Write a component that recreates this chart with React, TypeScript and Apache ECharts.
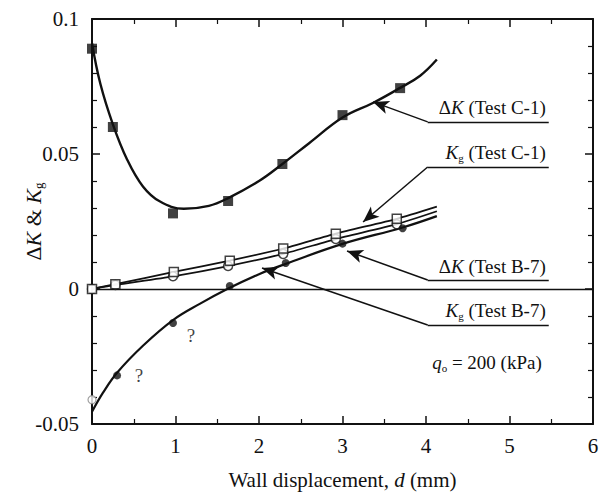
import React, { useEffect, useRef } from "react";
import * as echarts from "echarts";

// ---- Data ----
// ΔK (Test C-1): measured points (filled squares) and fitted curve
const dkC1X = [0, 0.25, 0.97, 1.63, 2.28, 3.0, 3.69];
const dkC1Y = [0.089, 0.06, 0.028, 0.0326, 0.0463, 0.0644, 0.0744];
const dkC1FitX = [0, 0.1, 0.25, 0.42, 0.61, 0.81, 1.1, 1.4, 1.62, 2.0, 2.28, 2.6, 3.0, 3.37, 3.69, 3.93, 4.13];
const dkC1FitY = [0.091, 0.076, 0.061, 0.048, 0.038, 0.0325, 0.0297, 0.0308, 0.0335, 0.04, 0.0463, 0.054, 0.0635, 0.069, 0.0745, 0.079, 0.085];

// Kg (Test C-1): open squares
const kgC1X = [0, 0.28, 0.98, 1.65, 2.29, 2.92, 3.65];
const kgC1Y = [0, 0.0018, 0.0063, 0.0105, 0.015, 0.0205, 0.026];
const kgC1LineX = [0, 0.28, 0.98, 1.65, 2.29, 2.92, 3.65, 4.13];
const kgC1LineY = [0, 0.0018, 0.0063, 0.0105, 0.015, 0.0205, 0.026, 0.0305];

// Kg (Test B-7): open circles
const kgB7X = [0, 0.28, 0.97, 1.63, 2.29, 2.92, 3.65];
const kgB7Y = [0, 0.0015, 0.0047, 0.0085, 0.013, 0.0185, 0.024];
const kgB7LineX = [0, 0.28, 0.97, 1.63, 2.29, 2.92, 3.65, 4.13];
const kgB7LineY = [0, 0.0015, 0.0047, 0.0085, 0.013, 0.0185, 0.024, 0.0288];

// ΔK (Test B-7): filled circles and fitted curve
const dkB7X = [0, 0.3, 0.97, 1.65, 2.32, 3.0, 3.72];
const dkB7Y = [-0.041, -0.032, -0.0126, 0.0011, 0.0096, 0.0168, 0.0225];
const dkB7FitX = [0, 0.13, 0.3, 0.61, 0.97, 1.29, 1.62, 2.0, 2.32, 3.0, 3.72, 4.13];
const dkB7FitY = [-0.0455, -0.0385, -0.031, -0.021, -0.0115, -0.0055, 0, 0.0055, 0.0093, 0.0167, 0.0228, 0.027];

// Axis ticks
const xTicks = [0, 1, 2, 3, 4, 5, 6];
const yTicks = [-0.05, 0, 0.05, 0.1];

// Annotation anchors (data coordinates)
const underlineX = [4.02, 5.47];
const labelY = [0.0619, 0.0452, 0.00333, -0.01333];
const arrowTips = [
  [3.365, 0.0693],
  [3.246, 0.0248],
  [3.054, 0.0141],
  [2.036, 0.0078],
];
const labelTexts = [
  "{n|Δ}{i|K} (Test C-1)",
  "{i|K}{s|g} (Test C-1)",
  "{n|Δ}{i|K} (Test B-7)",
  "{i|K}{s|g} (Test B-7)",
];

const FONT = "Liberation Serif";

const zip = (xs: number[], ys: number[]) => xs.map((x, i) => [x, ys[i]]);

const richStyles = {
  n: { fontFamily: FONT, fontSize: 19, lineHeight: 22, color: "#111" },
  i: { fontFamily: FONT, fontSize: 19, lineHeight: 22, fontStyle: "italic", color: "#111" },
  s: { fontFamily: FONT, fontSize: 11, lineHeight: 10, verticalAlign: "bottom", color: "#111" },
};

export default function App() {
  const ref = useRef<HTMLDivElement>(null);
  useEffect(() => {
    document.body.style.margin = "0";
    const chart = echarts.init(ref.current as HTMLDivElement, null, { renderer: "svg" });

    const axisCommon = {
      axisLine: { show: true, onZero: false, lineStyle: { color: "#111", width: 2 } },
      axisTick: { show: true, inside: true, length: 8, lineStyle: { color: "#111", width: 1.5 } },
      splitLine: { show: false },
    };

    const open = { color: "#fff", borderColor: "#111", borderWidth: 1.5 };

    const option: any = {
      animation: false,
      backgroundColor: "#fff",
      textStyle: { fontFamily: FONT },
      grid: { left: 92, right: 17, top: 19, bottom: 76, containLabel: false },
      xAxis: [
        {
          type: "value",
          min: xTicks[0],
          max: xTicks[xTicks.length - 1],
          interval: 1,
          position: "bottom",
          ...axisCommon,
          minorTick: { show: true, splitNumber: 2, length: 5, lineStyle: { color: "#111", width: 1.2 } },
          axisLabel: { color: "#111", fontFamily: FONT, fontSize: 21, margin: 11 },
          name: "Wall displacement, {i|d} (mm)",
          nameLocation: "middle",
          nameGap: 45,
          nameMoveOverlap: false,
          nameTextStyle: {
            fontFamily: FONT,
            fontSize: 21,
            color: "#111",
            rich: { i: { fontFamily: FONT, fontSize: 21, fontStyle: "italic", color: "#111" } },
          },
        },
        {
          type: "value",
          min: xTicks[0],
          max: xTicks[xTicks.length - 1],
          interval: 1,
          position: "top",
          ...axisCommon,
          minorTick: { show: true, splitNumber: 2, length: 5, lineStyle: { color: "#111", width: 1.2 } },
          axisLabel: { show: false },
        },
      ],
      yAxis: [
        {
          type: "value",
          min: yTicks[0],
          max: yTicks[yTicks.length - 1],
          interval: 0.05,
          position: "left",
          ...axisCommon,
          minorTick: { show: true, splitNumber: 5, length: 5, lineStyle: { color: "#111", width: 1.2 } },
          axisLabel: { color: "#111", fontFamily: FONT, fontSize: 21, margin: 13 },
          name: "{n|Δ}{i|K} & {i|K}{s|g}",
          nameLocation: "middle",
          nameRotate: 90,
          nameGap: 47,
          nameMoveOverlap: false,
          nameTextStyle: {
            fontFamily: FONT,
            fontSize: 22,
            color: "#111",
            rich: {
              n: { fontFamily: FONT, fontSize: 22, lineHeight: 24, color: "#111" },
              i: { fontFamily: FONT, fontSize: 22, lineHeight: 24, fontStyle: "italic", color: "#111" },
              s: { fontFamily: FONT, fontSize: 13, lineHeight: 10, verticalAlign: "bottom", color: "#111" },
            },
          },
        },
        {
          type: "value",
          min: yTicks[0],
          max: yTicks[yTicks.length - 1],
          interval: 0.05,
          position: "right",
          ...axisCommon,
          minorTick: { show: true, splitNumber: 5, length: 5, lineStyle: { color: "#111", width: 1.2 } },
          axisLabel: { show: false },
        },
      ],
      series: [
        {
          name: "ΔK C-1 fit",
          type: "line",
          data: zip(dkC1FitX, dkC1FitY),
          smooth: 0.4,
          showSymbol: false,
          symbol: "none",
          lineStyle: { color: "#111", width: 2.4 },
          z: 3,
          markLine: {
            silent: true,
            symbol: ["none", "arrow"],
            symbolSize: [10, 16],
            label: { show: false },
            lineStyle: { color: "#111", width: 1.5, type: "solid" },
            data: arrowTips.map((tip, i) => [
              { coord: [underlineX[0], labelY[i]], symbol: "none" },
              { coord: tip, symbol: "arrow" },
            ]),
          },
        },
        {
          name: "Kg C-1 line",
          type: "line",
          data: zip(kgC1LineX, kgC1LineY),
          smooth: 0.2,
          symbol: "none",
          lineStyle: { color: "#111", width: 1.8 },
          z: 3,
          markLine: {
            silent: true,
            symbol: ["none", "none"],
            lineStyle: { color: "#111", width: 1.3, type: "solid" },
            data: [
              [
                { coord: [xTicks[0], 0], label: { show: false } },
                { coord: [xTicks[xTicks.length - 1], 0] },
              ],
              ...labelTexts.map((t, i) => [
                {
                  coord: [underlineX[0], labelY[i]],
                  label: {
                    show: true,
                    position: "insideEndTop",
                    distance: 3,
                    formatter: t,
                    fontFamily: FONT,
                    fontSize: 19,
                    color: "#111",
                    rich: richStyles,
                  },
                },
                { coord: [underlineX[1], labelY[i]] },
              ]),
            ],
          },
        },
        {
          name: "Kg B-7 line",
          type: "line",
          data: zip(kgB7LineX, kgB7LineY),
          smooth: 0.2,
          symbol: "none",
          lineStyle: { color: "#111", width: 1.8 },
          z: 3,
        },
        {
          name: "ΔK B-7 fit",
          type: "line",
          data: zip(dkB7FitX, dkB7FitY),
          smooth: 0.4,
          symbol: "none",
          lineStyle: { color: "#111", width: 2.2 },
          z: 3,
          markPoint: {
            silent: true,
            symbol: "circle",
            symbolSize: 0,
            data: [
              {
                coord: [4.73, -0.0274],
                label: {
                  show: true,
                  position: "inside",
                  formatter: "{i|q}{s|o} = 200 (kPa)",
                  fontFamily: FONT,
                  fontSize: 19,
                  color: "#111",
                  rich: richStyles,
                },
              },
            ],
          },
        },
        {
          name: "ΔK C-1",
          type: "scatter",
          data: zip(dkC1X, dkC1Y),
          symbol: "rect",
          symbolSize: 10,
          itemStyle: { color: "#111" },
          z: 5,
        },
        {
          name: "Kg C-1",
          type: "scatter",
          data: zip(kgC1X, kgC1Y),
          symbol: "rect",
          symbolSize: 9,
          itemStyle: open,
          z: 6,
        },
        {
          name: "Kg B-7",
          type: "scatter",
          data: zip(kgB7X, kgB7Y),
          symbol: "circle",
          symbolSize: 9,
          itemStyle: open,
          z: 5,
        },
        {
          name: "ΔK B-7",
          type: "scatter",
          symbol: "circle",
          symbolSize: 8,
          itemStyle: { color: "#111" },
          z: 5,
          data: zip(dkB7X, dkB7Y).map((p, i) => {
            if (i === 0) return { value: p, itemStyle: { color: "#fff", borderColor: "#888", borderWidth: 1.2 } };
            if (i === 1 || i === 2)
              return {
                value: p,
                label: {
                  show: true,
                  formatter: "?",
                  position: "inside",
                  offset: i === 1 ? [22, 0] : [18, 12],
                  fontFamily: FONT,
                  fontSize: 19,
                  color: "#111",
                },
              };
            return p;
          }),
        },
      ],
    };

    chart.setOption(option);
    return () => chart.dispose();
  }, []);
  return <div ref={ref} style={{ width: 610, height: 500 }} />;
}
